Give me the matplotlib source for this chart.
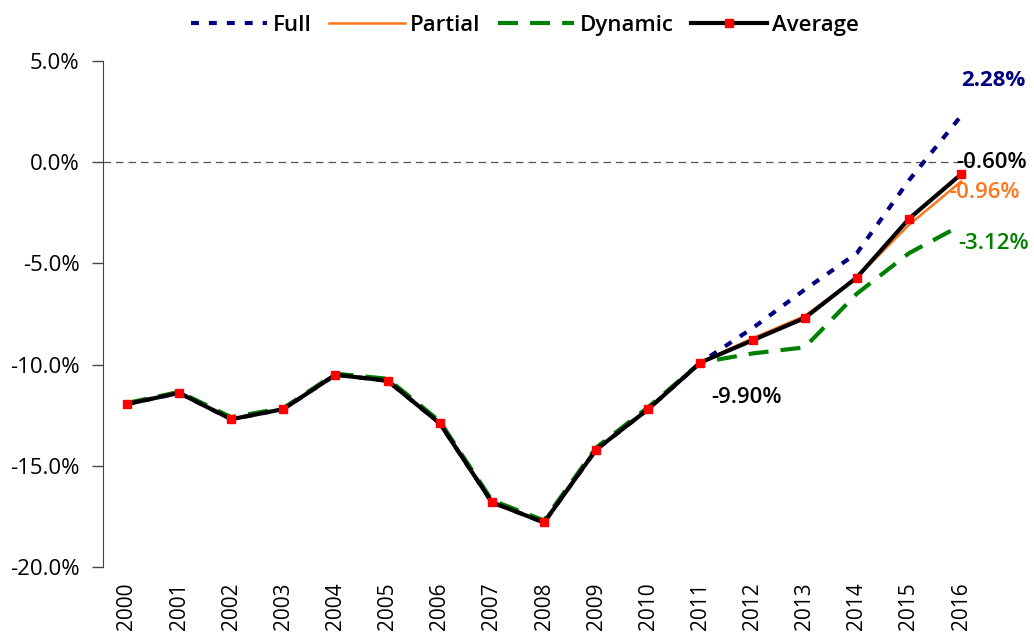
import matplotlib
matplotlib.use("Agg")
import matplotlib.pyplot as plt
from matplotlib.ticker import FuncFormatter

years = list(range(2000, 2017))
full = [-11.95, -11.4, -12.7, -12.2, -10.5, -10.8, -12.9, -16.8, -17.8, -14.2, -12.2, -9.90, -8.2, -6.3, -4.5, -0.9, 2.28]
partial = [-11.95, -11.4, -12.7, -12.2, -10.5, -10.8, -12.9, -16.8, -17.8, -14.2, -12.2, -9.90, -8.7, -7.6, -5.7, -3.1, -0.96]
dynamic = [-11.9, -11.35, -12.6, -12.15, -10.45, -10.7, -12.8, -16.7, -17.7, -14.1, -12.1, -9.90, -9.45, -9.15, -6.5, -4.5, -3.12]
average = [-11.95, -11.4, -12.7, -12.2, -10.5, -10.8, -12.9, -16.8, -17.8, -14.2, -12.2, -9.90, -8.8, -7.7, -5.7, -2.8, -0.60]
yticks = [5, 0, -5, -10, -15, -20]

plt.rcParams['font.family'] = ['Open Sans', 'DejaVu Sans']

fig = plt.figure(figsize=(10.34, 6.41), dpi=100)
ax = fig.add_axes([0.0996, 0.1154, 0.845, 0.7896])

ax.axhline(0, color='#555555', lw=0.9, ls=(0, (6, 4)), zorder=1)
ax.plot(years, full, color='#000080', lw=3, ls=(0, (1.9, 2.4)), label='Full', zorder=2)
ax.plot(years, partial, color='#FF7518', lw=1.8, label='Partial', zorder=3)
ax.plot(years, dynamic, color='#008000', lw=3, ls=(0, (4.8, 2.9)), label='Dynamic', zorder=2)
ax.plot(years, average, color='black', lw=3, marker='s', markersize=5.5,
        markerfacecolor='red', markeredgecolor='red', label='Average', zorder=4)

ax.set_xlim(1999.54, 2016.3)
ax.set_ylim(-20, 5)
ax.set_yticks(yticks)
ax.yaxis.set_major_formatter(FuncFormatter(lambda v, p: f"{v:.1f}%"))
ax.set_xticks(years)
ax.set_xticklabels([str(y) for y in years], rotation=90)
ax.tick_params(axis='x', length=0, pad=11, labelsize=15)
ax.tick_params(axis='y', direction='out', length=8, width=1, color='#444444', labelsize=16, pad=9)
for s in ['top', 'right', 'bottom']:
    ax.spines[s].set_visible(False)
ax.spines['left'].set_color('#444444')

ax.text(years[-1] + 0.0, full[-1] + 1.75, f"{full[-1]:.2f}%", color='#000080', fontsize=16,
        fontweight='bold', ha='left', va='center', clip_on=False)
ax.text(years[-1] - 0.1, average[-1] + 0.6, f"{average[-1]:.2f}%", color='black', fontsize=16,
        fontweight='semibold', ha='left', va='center', clip_on=False)
ax.text(years[-1] - 0.22, partial[-1] - 0.55, f"{partial[-1]:.2f}%", color='#FF7518', fontsize=16,
        fontweight='semibold', ha='left', va='center', clip_on=False)
ax.text(years[-1] - 0.05, dynamic[-1] - 0.9, f"{dynamic[-1]:.2f}%", color='#008000', fontsize=16,
        fontweight='semibold', ha='left', va='center', clip_on=False)
ax.text(2011.2, average[11] - 1.75, f"{average[11]:.2f}%", color='black', fontsize=16,
        fontweight='semibold', ha='left', va='center')

leg = fig.legend(loc='upper center', bbox_to_anchor=(0.508, 1.008), ncol=4, frameon=False,
                 prop={'size': 16, 'weight': 'semibold'}, handlelength=3.4,
                 columnspacing=0.8, handletextpad=0.25)

fig.savefig('out.png', dpi=100)
